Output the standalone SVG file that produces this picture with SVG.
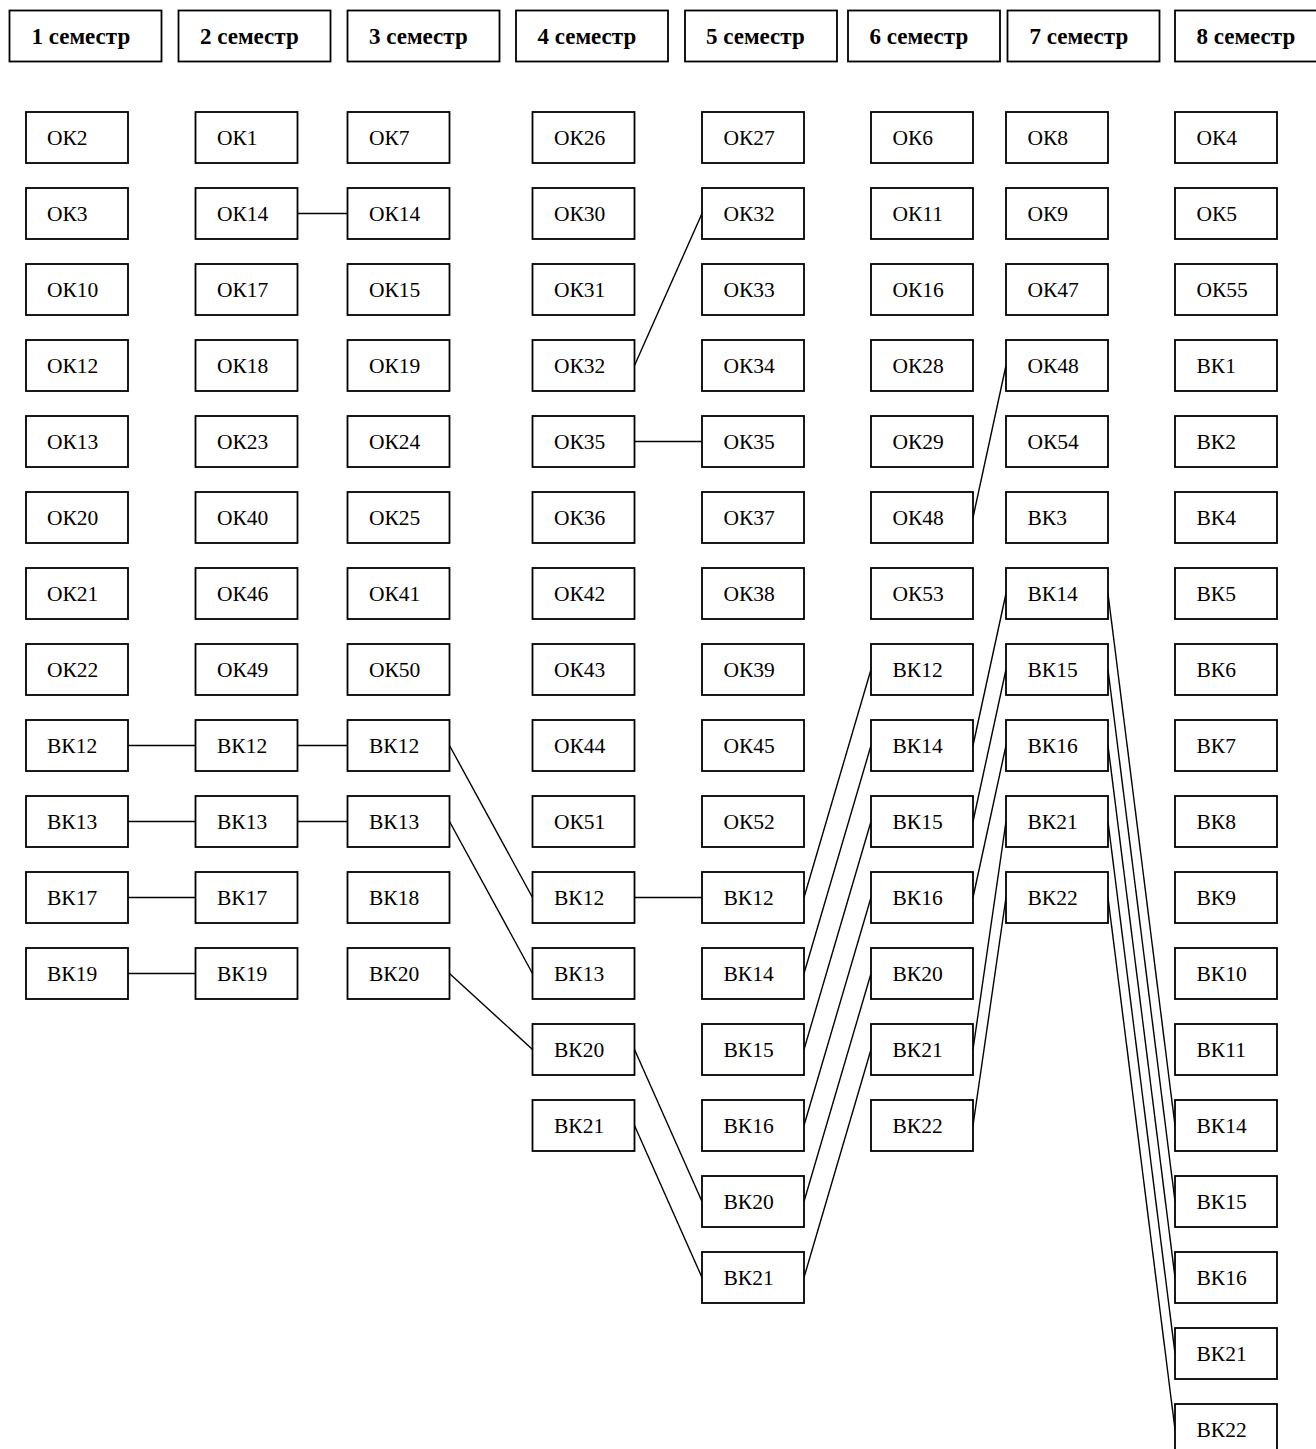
<svg xmlns="http://www.w3.org/2000/svg" width="1316" height="1449" viewBox="0 0 1316 1449">
<style>
.b{fill:#fff;stroke:#000;stroke-width:1.8}
.h{font-family:"Liberation Serif","Times New Roman","DejaVu Serif",serif;font-size:23px;font-weight:bold;fill:#000}
.t{font-family:"Liberation Serif","Times New Roman","DejaVu Serif",serif;font-size:21.5px;fill:#000}
.c line{stroke:#000;stroke-width:1.4}
</style>
<rect width="1316" height="1449" fill="#fff"/>
<g id="headers">
<g id="h1"><rect class="b" x="9.5" y="10.5" width="152" height="51"/><text class="h" x="31.5" y="44">1 семестр</text></g>
<g id="h2"><rect class="b" x="178.5" y="10.5" width="152" height="51"/><text class="h" x="200" y="44">2 семестр</text></g>
<g id="h3"><rect class="b" x="347.5" y="10.5" width="152" height="51"/><text class="h" x="369" y="44">3 семестр</text></g>
<g id="h4"><rect class="b" x="516" y="10.5" width="152" height="51"/><text class="h" x="537.5" y="44">4 семестр</text></g>
<g id="h5"><rect class="b" x="685" y="10.5" width="152" height="51"/><text class="h" x="706" y="44">5 семестр</text></g>
<g id="h6"><rect class="b" x="848" y="10.5" width="152" height="51"/><text class="h" x="869.5" y="44">6 семестр</text></g>
<g id="h7"><rect class="b" x="1007.5" y="10.5" width="152" height="51"/><text class="h" x="1029.5" y="44">7 семестр</text></g>
<g id="h8"><rect class="b" x="1175" y="10.5" width="152" height="51"/><text class="h" x="1196.5" y="44">8 семестр</text></g>
</g>
<g id="connectors" class="c">
<line x1="297.5" y1="213.5" x2="347.5" y2="213.5"/>
<line x1="634.5" y1="365.5" x2="702" y2="213.5"/>
<line x1="634.5" y1="441.5" x2="702" y2="441.5"/>
<line x1="973" y1="517.5" x2="1006" y2="365.5"/>
<line x1="128" y1="745.5" x2="195.5" y2="745.5"/>
<line x1="297.5" y1="745.5" x2="347.5" y2="745.5"/>
<line x1="449.5" y1="745.5" x2="532.5" y2="897.5"/>
<line x1="634.5" y1="897.5" x2="702" y2="897.5"/>
<line x1="804" y1="897.5" x2="871" y2="669.5"/>
<line x1="128" y1="821.5" x2="195.5" y2="821.5"/>
<line x1="297.5" y1="821.5" x2="347.5" y2="821.5"/>
<line x1="449.5" y1="821.5" x2="532.5" y2="973.5"/>
<line x1="128" y1="897.5" x2="195.5" y2="897.5"/>
<line x1="128" y1="973.5" x2="195.5" y2="973.5"/>
<line x1="449.5" y1="973.5" x2="532.5" y2="1049.5"/>
<line x1="634.5" y1="1049.5" x2="702" y2="1201.5"/>
<line x1="804" y1="1201.5" x2="871" y2="973.5"/>
<line x1="634.5" y1="1125.5" x2="702" y2="1277.5"/>
<line x1="804" y1="1277.5" x2="871" y2="1049.5"/>
<line x1="973" y1="1049.5" x2="1006" y2="821.5"/>
<line x1="1108" y1="821.5" x2="1175" y2="1353.5"/>
<line x1="804" y1="973.5" x2="871" y2="745.5"/>
<line x1="973" y1="745.5" x2="1006" y2="593.5"/>
<line x1="1108" y1="593.5" x2="1175" y2="1125.5"/>
<line x1="804" y1="1049.5" x2="871" y2="821.5"/>
<line x1="973" y1="821.5" x2="1006" y2="669.5"/>
<line x1="1108" y1="669.5" x2="1175" y2="1201.5"/>
<line x1="804" y1="1125.5" x2="871" y2="897.5"/>
<line x1="973" y1="897.5" x2="1006" y2="745.5"/>
<line x1="1108" y1="745.5" x2="1175" y2="1277.5"/>
<line x1="973" y1="1125.5" x2="1006" y2="897.5"/>
<line x1="1108" y1="897.5" x2="1175" y2="1429.5"/>
</g>
<g id="col1">
<g id="c1r0"><rect class="b" x="26" y="112" width="102" height="51"/><text class="t" x="47" y="144.5">ОК2</text></g>
<g id="c1r1"><rect class="b" x="26" y="188" width="102" height="51"/><text class="t" x="47" y="220.5">ОК3</text></g>
<g id="c1r2"><rect class="b" x="26" y="264" width="102" height="51"/><text class="t" x="47" y="296.5">ОК10</text></g>
<g id="c1r3"><rect class="b" x="26" y="340" width="102" height="51"/><text class="t" x="47" y="372.5">ОК12</text></g>
<g id="c1r4"><rect class="b" x="26" y="416" width="102" height="51"/><text class="t" x="47" y="448.5">ОК13</text></g>
<g id="c1r5"><rect class="b" x="26" y="492" width="102" height="51"/><text class="t" x="47" y="524.5">ОК20</text></g>
<g id="c1r6"><rect class="b" x="26" y="568" width="102" height="51"/><text class="t" x="47" y="600.5">ОК21</text></g>
<g id="c1r7"><rect class="b" x="26" y="644" width="102" height="51"/><text class="t" x="47" y="676.5">ОК22</text></g>
<g id="c1r8"><rect class="b" x="26" y="720" width="102" height="51"/><text class="t" x="47" y="752.5">ВК12</text></g>
<g id="c1r9"><rect class="b" x="26" y="796" width="102" height="51"/><text class="t" x="47" y="828.5">ВК13</text></g>
<g id="c1r10"><rect class="b" x="26" y="872" width="102" height="51"/><text class="t" x="47" y="904.5">ВК17</text></g>
<g id="c1r11"><rect class="b" x="26" y="948" width="102" height="51"/><text class="t" x="47" y="980.5">ВК19</text></g>
</g>
<g id="col2">
<g id="c2r0"><rect class="b" x="195.5" y="112" width="102" height="51"/><text class="t" x="217" y="144.5">ОК1</text></g>
<g id="c2r1"><rect class="b" x="195.5" y="188" width="102" height="51"/><text class="t" x="217" y="220.5">ОК14</text></g>
<g id="c2r2"><rect class="b" x="195.5" y="264" width="102" height="51"/><text class="t" x="217" y="296.5">ОК17</text></g>
<g id="c2r3"><rect class="b" x="195.5" y="340" width="102" height="51"/><text class="t" x="217" y="372.5">ОК18</text></g>
<g id="c2r4"><rect class="b" x="195.5" y="416" width="102" height="51"/><text class="t" x="217" y="448.5">ОК23</text></g>
<g id="c2r5"><rect class="b" x="195.5" y="492" width="102" height="51"/><text class="t" x="217" y="524.5">ОК40</text></g>
<g id="c2r6"><rect class="b" x="195.5" y="568" width="102" height="51"/><text class="t" x="217" y="600.5">ОК46</text></g>
<g id="c2r7"><rect class="b" x="195.5" y="644" width="102" height="51"/><text class="t" x="217" y="676.5">ОК49</text></g>
<g id="c2r8"><rect class="b" x="195.5" y="720" width="102" height="51"/><text class="t" x="217" y="752.5">ВК12</text></g>
<g id="c2r9"><rect class="b" x="195.5" y="796" width="102" height="51"/><text class="t" x="217" y="828.5">ВК13</text></g>
<g id="c2r10"><rect class="b" x="195.5" y="872" width="102" height="51"/><text class="t" x="217" y="904.5">ВК17</text></g>
<g id="c2r11"><rect class="b" x="195.5" y="948" width="102" height="51"/><text class="t" x="217" y="980.5">ВК19</text></g>
</g>
<g id="col3">
<g id="c3r0"><rect class="b" x="347.5" y="112" width="102" height="51"/><text class="t" x="369" y="144.5">ОК7</text></g>
<g id="c3r1"><rect class="b" x="347.5" y="188" width="102" height="51"/><text class="t" x="369" y="220.5">ОК14</text></g>
<g id="c3r2"><rect class="b" x="347.5" y="264" width="102" height="51"/><text class="t" x="369" y="296.5">ОК15</text></g>
<g id="c3r3"><rect class="b" x="347.5" y="340" width="102" height="51"/><text class="t" x="369" y="372.5">ОК19</text></g>
<g id="c3r4"><rect class="b" x="347.5" y="416" width="102" height="51"/><text class="t" x="369" y="448.5">ОК24</text></g>
<g id="c3r5"><rect class="b" x="347.5" y="492" width="102" height="51"/><text class="t" x="369" y="524.5">ОК25</text></g>
<g id="c3r6"><rect class="b" x="347.5" y="568" width="102" height="51"/><text class="t" x="369" y="600.5">ОК41</text></g>
<g id="c3r7"><rect class="b" x="347.5" y="644" width="102" height="51"/><text class="t" x="369" y="676.5">ОК50</text></g>
<g id="c3r8"><rect class="b" x="347.5" y="720" width="102" height="51"/><text class="t" x="369" y="752.5">ВК12</text></g>
<g id="c3r9"><rect class="b" x="347.5" y="796" width="102" height="51"/><text class="t" x="369" y="828.5">ВК13</text></g>
<g id="c3r10"><rect class="b" x="347.5" y="872" width="102" height="51"/><text class="t" x="369" y="904.5">ВК18</text></g>
<g id="c3r11"><rect class="b" x="347.5" y="948" width="102" height="51"/><text class="t" x="369" y="980.5">ВК20</text></g>
</g>
<g id="col4">
<g id="c4r0"><rect class="b" x="532.5" y="112" width="102" height="51"/><text class="t" x="554" y="144.5">ОК26</text></g>
<g id="c4r1"><rect class="b" x="532.5" y="188" width="102" height="51"/><text class="t" x="554" y="220.5">ОК30</text></g>
<g id="c4r2"><rect class="b" x="532.5" y="264" width="102" height="51"/><text class="t" x="554" y="296.5">ОК31</text></g>
<g id="c4r3"><rect class="b" x="532.5" y="340" width="102" height="51"/><text class="t" x="554" y="372.5">ОК32</text></g>
<g id="c4r4"><rect class="b" x="532.5" y="416" width="102" height="51"/><text class="t" x="554" y="448.5">ОК35</text></g>
<g id="c4r5"><rect class="b" x="532.5" y="492" width="102" height="51"/><text class="t" x="554" y="524.5">ОК36</text></g>
<g id="c4r6"><rect class="b" x="532.5" y="568" width="102" height="51"/><text class="t" x="554" y="600.5">ОК42</text></g>
<g id="c4r7"><rect class="b" x="532.5" y="644" width="102" height="51"/><text class="t" x="554" y="676.5">ОК43</text></g>
<g id="c4r8"><rect class="b" x="532.5" y="720" width="102" height="51"/><text class="t" x="554" y="752.5">ОК44</text></g>
<g id="c4r9"><rect class="b" x="532.5" y="796" width="102" height="51"/><text class="t" x="554" y="828.5">ОК51</text></g>
<g id="c4r10"><rect class="b" x="532.5" y="872" width="102" height="51"/><text class="t" x="554" y="904.5">ВК12</text></g>
<g id="c4r11"><rect class="b" x="532.5" y="948" width="102" height="51"/><text class="t" x="554" y="980.5">ВК13</text></g>
<g id="c4r12"><rect class="b" x="532.5" y="1024" width="102" height="51"/><text class="t" x="554" y="1056.5">ВК20</text></g>
<g id="c4r13"><rect class="b" x="532.5" y="1100" width="102" height="51"/><text class="t" x="554" y="1132.5">ВК21</text></g>
</g>
<g id="col5">
<g id="c5r0"><rect class="b" x="702" y="112" width="102" height="51"/><text class="t" x="723.5" y="144.5">ОК27</text></g>
<g id="c5r1"><rect class="b" x="702" y="188" width="102" height="51"/><text class="t" x="723.5" y="220.5">ОК32</text></g>
<g id="c5r2"><rect class="b" x="702" y="264" width="102" height="51"/><text class="t" x="723.5" y="296.5">ОК33</text></g>
<g id="c5r3"><rect class="b" x="702" y="340" width="102" height="51"/><text class="t" x="723.5" y="372.5">ОК34</text></g>
<g id="c5r4"><rect class="b" x="702" y="416" width="102" height="51"/><text class="t" x="723.5" y="448.5">ОК35</text></g>
<g id="c5r5"><rect class="b" x="702" y="492" width="102" height="51"/><text class="t" x="723.5" y="524.5">ОК37</text></g>
<g id="c5r6"><rect class="b" x="702" y="568" width="102" height="51"/><text class="t" x="723.5" y="600.5">ОК38</text></g>
<g id="c5r7"><rect class="b" x="702" y="644" width="102" height="51"/><text class="t" x="723.5" y="676.5">ОК39</text></g>
<g id="c5r8"><rect class="b" x="702" y="720" width="102" height="51"/><text class="t" x="723.5" y="752.5">ОК45</text></g>
<g id="c5r9"><rect class="b" x="702" y="796" width="102" height="51"/><text class="t" x="723.5" y="828.5">ОК52</text></g>
<g id="c5r10"><rect class="b" x="702" y="872" width="102" height="51"/><text class="t" x="723.5" y="904.5">ВК12</text></g>
<g id="c5r11"><rect class="b" x="702" y="948" width="102" height="51"/><text class="t" x="723.5" y="980.5">ВК14</text></g>
<g id="c5r12"><rect class="b" x="702" y="1024" width="102" height="51"/><text class="t" x="723.5" y="1056.5">ВК15</text></g>
<g id="c5r13"><rect class="b" x="702" y="1100" width="102" height="51"/><text class="t" x="723.5" y="1132.5">ВК16</text></g>
<g id="c5r14"><rect class="b" x="702" y="1176" width="102" height="51"/><text class="t" x="723.5" y="1208.5">ВК20</text></g>
<g id="c5r15"><rect class="b" x="702" y="1252" width="102" height="51"/><text class="t" x="723.5" y="1284.5">ВК21</text></g>
</g>
<g id="col6">
<g id="c6r0"><rect class="b" x="871" y="112" width="102" height="51"/><text class="t" x="892.5" y="144.5">ОК6</text></g>
<g id="c6r1"><rect class="b" x="871" y="188" width="102" height="51"/><text class="t" x="892.5" y="220.5">ОК11</text></g>
<g id="c6r2"><rect class="b" x="871" y="264" width="102" height="51"/><text class="t" x="892.5" y="296.5">ОК16</text></g>
<g id="c6r3"><rect class="b" x="871" y="340" width="102" height="51"/><text class="t" x="892.5" y="372.5">ОК28</text></g>
<g id="c6r4"><rect class="b" x="871" y="416" width="102" height="51"/><text class="t" x="892.5" y="448.5">ОК29</text></g>
<g id="c6r5"><rect class="b" x="871" y="492" width="102" height="51"/><text class="t" x="892.5" y="524.5">ОК48</text></g>
<g id="c6r6"><rect class="b" x="871" y="568" width="102" height="51"/><text class="t" x="892.5" y="600.5">ОК53</text></g>
<g id="c6r7"><rect class="b" x="871" y="644" width="102" height="51"/><text class="t" x="892.5" y="676.5">ВК12</text></g>
<g id="c6r8"><rect class="b" x="871" y="720" width="102" height="51"/><text class="t" x="892.5" y="752.5">ВК14</text></g>
<g id="c6r9"><rect class="b" x="871" y="796" width="102" height="51"/><text class="t" x="892.5" y="828.5">ВК15</text></g>
<g id="c6r10"><rect class="b" x="871" y="872" width="102" height="51"/><text class="t" x="892.5" y="904.5">ВК16</text></g>
<g id="c6r11"><rect class="b" x="871" y="948" width="102" height="51"/><text class="t" x="892.5" y="980.5">ВК20</text></g>
<g id="c6r12"><rect class="b" x="871" y="1024" width="102" height="51"/><text class="t" x="892.5" y="1056.5">ВК21</text></g>
<g id="c6r13"><rect class="b" x="871" y="1100" width="102" height="51"/><text class="t" x="892.5" y="1132.5">ВК22</text></g>
</g>
<g id="col7">
<g id="c7r0"><rect class="b" x="1006" y="112" width="102" height="51"/><text class="t" x="1027.5" y="144.5">ОК8</text></g>
<g id="c7r1"><rect class="b" x="1006" y="188" width="102" height="51"/><text class="t" x="1027.5" y="220.5">ОК9</text></g>
<g id="c7r2"><rect class="b" x="1006" y="264" width="102" height="51"/><text class="t" x="1027.5" y="296.5">ОК47</text></g>
<g id="c7r3"><rect class="b" x="1006" y="340" width="102" height="51"/><text class="t" x="1027.5" y="372.5">ОК48</text></g>
<g id="c7r4"><rect class="b" x="1006" y="416" width="102" height="51"/><text class="t" x="1027.5" y="448.5">ОК54</text></g>
<g id="c7r5"><rect class="b" x="1006" y="492" width="102" height="51"/><text class="t" x="1027.5" y="524.5">ВК3</text></g>
<g id="c7r6"><rect class="b" x="1006" y="568" width="102" height="51"/><text class="t" x="1027.5" y="600.5">ВК14</text></g>
<g id="c7r7"><rect class="b" x="1006" y="644" width="102" height="51"/><text class="t" x="1027.5" y="676.5">ВК15</text></g>
<g id="c7r8"><rect class="b" x="1006" y="720" width="102" height="51"/><text class="t" x="1027.5" y="752.5">ВК16</text></g>
<g id="c7r9"><rect class="b" x="1006" y="796" width="102" height="51"/><text class="t" x="1027.5" y="828.5">ВК21</text></g>
<g id="c7r10"><rect class="b" x="1006" y="872" width="102" height="51"/><text class="t" x="1027.5" y="904.5">ВК22</text></g>
</g>
<g id="col8">
<g id="c8r0"><rect class="b" x="1175" y="112" width="102" height="51"/><text class="t" x="1196.5" y="144.5">ОК4</text></g>
<g id="c8r1"><rect class="b" x="1175" y="188" width="102" height="51"/><text class="t" x="1196.5" y="220.5">ОК5</text></g>
<g id="c8r2"><rect class="b" x="1175" y="264" width="102" height="51"/><text class="t" x="1196.5" y="296.5">ОК55</text></g>
<g id="c8r3"><rect class="b" x="1175" y="340" width="102" height="51"/><text class="t" x="1196.5" y="372.5">ВК1</text></g>
<g id="c8r4"><rect class="b" x="1175" y="416" width="102" height="51"/><text class="t" x="1196.5" y="448.5">ВК2</text></g>
<g id="c8r5"><rect class="b" x="1175" y="492" width="102" height="51"/><text class="t" x="1196.5" y="524.5">ВК4</text></g>
<g id="c8r6"><rect class="b" x="1175" y="568" width="102" height="51"/><text class="t" x="1196.5" y="600.5">ВК5</text></g>
<g id="c8r7"><rect class="b" x="1175" y="644" width="102" height="51"/><text class="t" x="1196.5" y="676.5">ВК6</text></g>
<g id="c8r8"><rect class="b" x="1175" y="720" width="102" height="51"/><text class="t" x="1196.5" y="752.5">ВК7</text></g>
<g id="c8r9"><rect class="b" x="1175" y="796" width="102" height="51"/><text class="t" x="1196.5" y="828.5">ВК8</text></g>
<g id="c8r10"><rect class="b" x="1175" y="872" width="102" height="51"/><text class="t" x="1196.5" y="904.5">ВК9</text></g>
<g id="c8r11"><rect class="b" x="1175" y="948" width="102" height="51"/><text class="t" x="1196.5" y="980.5">ВК10</text></g>
<g id="c8r12"><rect class="b" x="1175" y="1024" width="102" height="51"/><text class="t" x="1196.5" y="1056.5">ВК11</text></g>
<g id="c8r13"><rect class="b" x="1175" y="1100" width="102" height="51"/><text class="t" x="1196.5" y="1132.5">ВК14</text></g>
<g id="c8r14"><rect class="b" x="1175" y="1176" width="102" height="51"/><text class="t" x="1196.5" y="1208.5">ВК15</text></g>
<g id="c8r15"><rect class="b" x="1175" y="1252" width="102" height="51"/><text class="t" x="1196.5" y="1284.5">ВК16</text></g>
<g id="c8r16"><rect class="b" x="1175" y="1328" width="102" height="51"/><text class="t" x="1196.5" y="1360.5">ВК21</text></g>
<g id="c8r17"><rect class="b" x="1175" y="1404" width="102" height="51"/><text class="t" x="1196.5" y="1436.5">ВК22</text></g>
</g>
</svg>
